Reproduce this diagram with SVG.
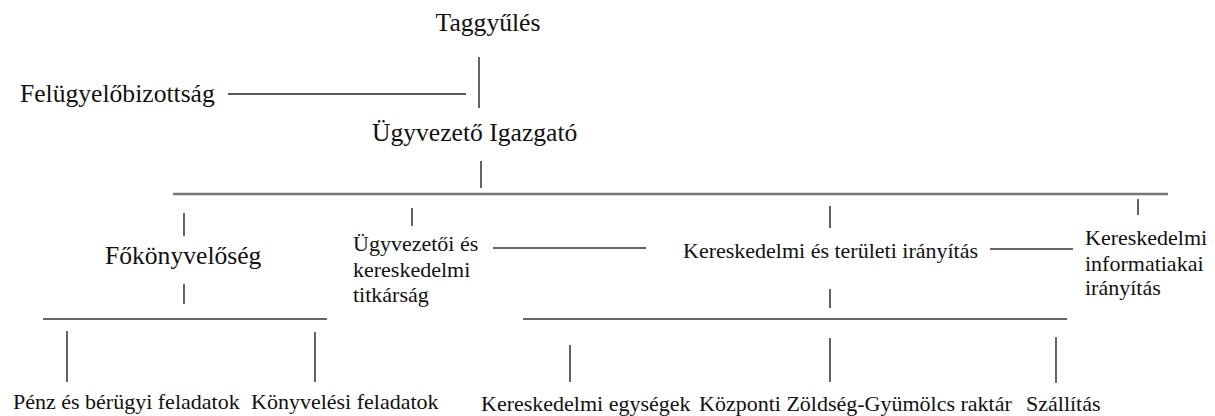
<svg xmlns="http://www.w3.org/2000/svg" width="1215" height="416" viewBox="0 0 1215 416">
<style>
text{font-family:"Liberation Serif","Times New Roman",serif;fill:#111}
.l{font-size:25.6px}
.s{font-size:22px}
.v{stroke:#111;stroke-width:1.3;fill:none}
.h{stroke:#666;stroke-width:2;fill:none}
.hb{stroke:#777;stroke-width:2.6;fill:none}
.hk{stroke:#222;stroke-width:1.3;fill:none}
</style>
<rect width="1215" height="416" fill="#fff"/>
<g id="connectors">
<line class="v" x1="479" y1="57" x2="479" y2="108"/>
<line class="hk" x1="228" y1="94" x2="466" y2="94"/>
<line class="v" x1="481" y1="161" x2="481" y2="188"/>
<line class="hb" x1="173" y1="194" x2="1168" y2="194"/>
<line class="v" x1="184" y1="213" x2="184" y2="236"/>
<line class="v" x1="184" y1="284" x2="184" y2="304"/>
<line class="h" x1="43" y1="319" x2="327" y2="319"/>
<line class="v" x1="67" y1="331" x2="67" y2="382"/>
<line class="v" x1="315" y1="332" x2="315" y2="382"/>
<line class="v" x1="412" y1="208" x2="412" y2="226"/>
<line class="h" x1="493" y1="248" x2="646" y2="248"/>
<line class="v" x1="830" y1="206" x2="830" y2="228"/>
<line class="v" x1="830" y1="289" x2="830" y2="308"/>
<line class="h" x1="990" y1="249" x2="1073" y2="249"/>
<line class="v" x1="1138" y1="199" x2="1138" y2="215"/>
<line class="h" x1="523" y1="319" x2="1067" y2="319"/>
<line class="v" x1="570" y1="345" x2="570" y2="382"/>
<line class="v" x1="830" y1="338" x2="830" y2="382"/>
<line class="v" x1="1056" y1="337" x2="1056" y2="383"/>
</g>
<g id="taggyules"><text class="l" x="488" y="31" text-anchor="middle">Taggyűlés</text></g>
<g id="felugyelo"><text class="l" x="20" y="102">Felügyelőbizottság</text></g>
<g id="ugyvezeto"><text class="l" x="372" y="141">Ügyvezető Igazgató</text></g>
<g id="fokonyveloseg"><text class="l" x="105" y="264">Főkönyvelőség</text></g>
<g id="titkarsag"><text class="s" x="353" y="251">Ügyvezetői és</text><text class="s" x="353" y="277">kereskedelmi</text><text class="s" x="353" y="302">titkárság</text></g>
<g id="kereskedelmi-teruleti"><text class="s" x="683" y="258">Kereskedelmi és területi irányítás</text></g>
<g id="informatikai"><text class="s" x="1085" y="245">Kereskedelmi</text><text class="s" x="1085" y="271">informatiakai</text><text class="s" x="1085" y="295">irányítás</text></g>
<g id="penz"><text class="s" x="13" y="409">Pénz és bérügyi feladatok</text></g>
<g id="konyvelesi"><text class="s" x="251" y="409">Könyvelési feladatok</text></g>
<g id="egysegek"><text class="s" x="481" y="411">Kereskedelmi egységek</text></g>
<g id="raktar"><text class="s" x="699" y="411">Központi Zöldség-Gyümölcs raktár</text></g>
<g id="szallitas"><text class="s" x="1026" y="411">Szállítás</text></g>
</svg>
